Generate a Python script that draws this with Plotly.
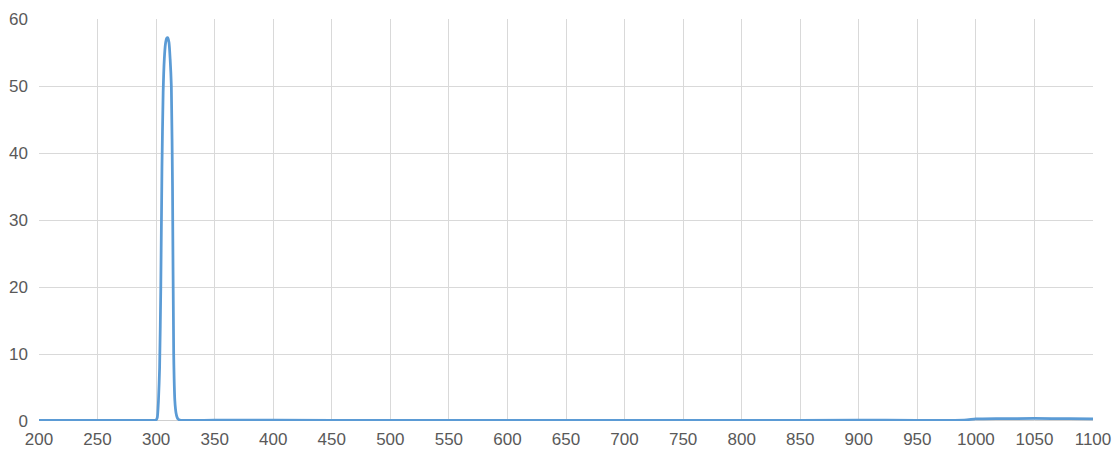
import plotly.graph_objects as go

wavelength = [200, 250, 290, 296, 299, 300, 301, 302, 303, 304, 305, 306, 307, 308,
              309, 310, 311, 312, 313, 314, 315, 316, 317, 318, 319, 320, 325, 330,
              350, 400, 500, 600, 700, 800, 900, 990, 1000, 1020, 1050, 1080, 1100]
intensity = [0.1, 0.1, 0.1, 0.1, 0.1, 0.15, 0.5, 3, 8, 20, 38, 49, 54, 56.3,
             57.1, 57.2, 56.5, 54, 50, 35, 10, 3, 1.2, 0.5, 0.25, 0.15, 0.1, 0.1,
             0.12, 0.12, 0.1, 0.1, 0.1, 0.1, 0.12, 0.15, 0.3, 0.35, 0.38, 0.35, 0.3]

x_ticks = list(range(200, 1101, 50))
y_ticks = list(range(0, 61, 10))

fig = go.Figure()
fig.add_trace(go.Scatter(
    x=wavelength, y=intensity, mode="lines",
    line=dict(color="#5B9BD5", width=2.75, shape="spline", smoothing=0.6),
    hoverinfo="skip", showlegend=False,
))

font = dict(family="Liberation Sans, Arial, sans-serif", size=17, color="#595959")
fig.update_layout(
    width=1119, height=456,
    margin=dict(l=39, r=26, t=19, b=35, autoexpand=False),
    paper_bgcolor="white", plot_bgcolor="white",
    font=font,
    xaxis=dict(range=[200, 1100], tickvals=x_ticks, ticktext=[str(v) for v in x_ticks],
               showgrid=True, gridcolor="#D9D9D9", gridwidth=1.3,
               zeroline=False, showline=False, ticks="", ticklen=0,
               ticklabelstandoff=6, automargin=False, tickfont=font),
    yaxis=dict(range=[0, 60], tickvals=y_ticks, ticktext=[str(v) for v in y_ticks],
               showgrid=True, gridcolor="#D9D9D9", gridwidth=1.3,
               zeroline=False, showline=False, ticks="", ticklen=0,
               ticklabelstandoff=10, automargin=False, tickfont=font),
    shapes=[dict(type="line", xref="paper", yref="y", x0=0, x1=1, y0=0, y1=0,
                 line=dict(color="#BFBFBF", width=1.5), layer="below")],
)
fig.write_html("out.html", config={"displayModeBar": False},
               post_script="document.body.style.margin='0';")
